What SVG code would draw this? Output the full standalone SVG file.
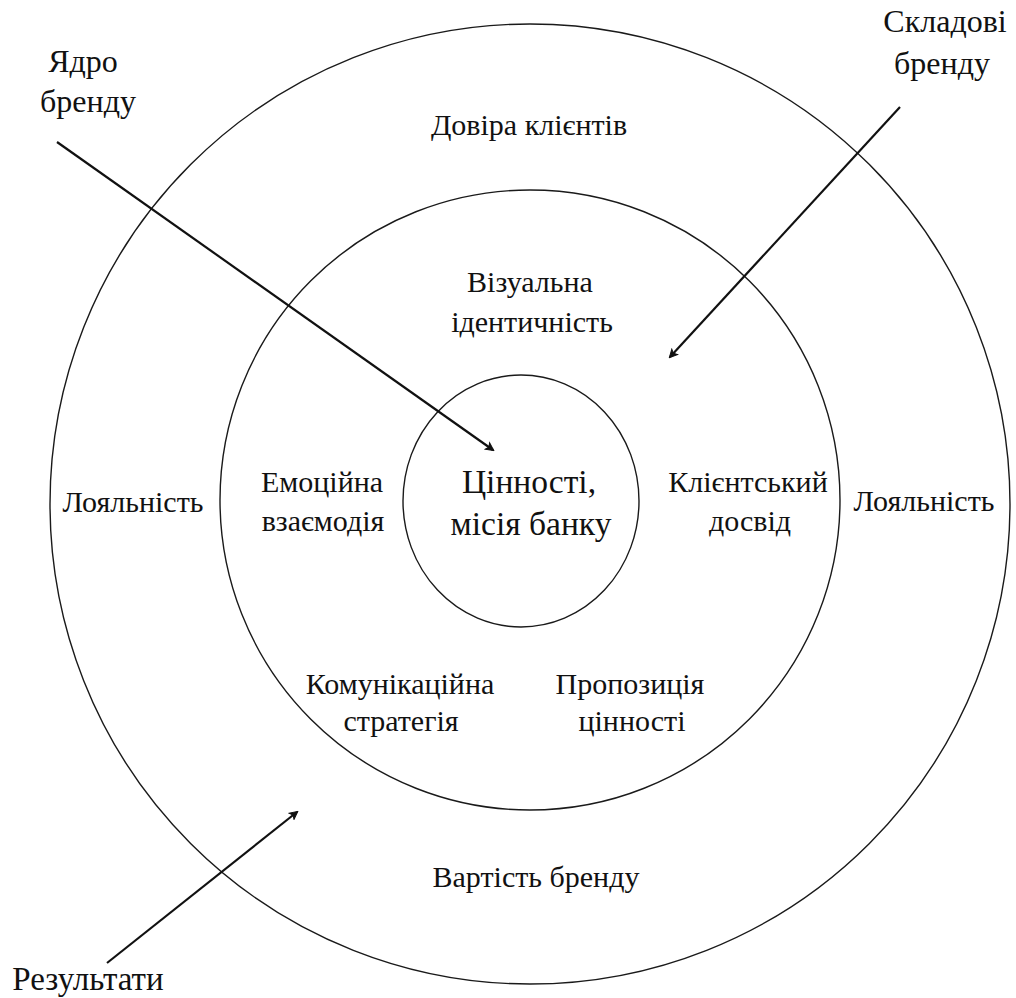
<svg xmlns="http://www.w3.org/2000/svg" width="1016" height="998" viewBox="0 0 1016 998">
<style>
.ring{fill:none;stroke:#1a1a1a;stroke-width:1.4}
.t{font-family:"Liberation Serif","Times New Roman",serif;font-size:30px;fill:#111;text-anchor:middle}
.tl{font-family:"Liberation Serif","Times New Roman",serif;font-size:32px;fill:#111;text-anchor:middle}
.tc{font-family:"Liberation Serif","Times New Roman",serif;font-size:33.5px;fill:#111;text-anchor:middle}
.arr{fill:none;stroke:#111;stroke-width:2.2;marker-end:url(#ah)}
</style>
<defs>
<marker id="ah" markerWidth="10" markerHeight="10" refX="8" refY="5" orient="auto" markerUnits="userSpaceOnUse">
<path d="M1,1 L9,5 L1,9 L3,5 Z" fill="#111" stroke="#111" stroke-width="1"/>
</marker>
</defs>
<rect width="1016" height="998" fill="#fff"/>
<g id="outer">
<circle class="ring" cx="530" cy="504" r="480"/>
<text class="t" x="529" y="135">Довіра клієнтів</text>
<text class="t" x="133" y="512">Лояльність</text>
<text class="t" x="924" y="511">Лояльність</text>
<text class="t" x="536" y="887">Вартість бренду</text>
</g>
<g id="middle">
<circle class="ring" cx="530" cy="500" r="310"/>
<text class="t" x="530" y="292">Візуальна</text>
<text class="t" x="532" y="332">ідентичність</text>
<text class="t" x="322" y="492">Емоційна</text>
<text class="t" x="323" y="531">взаємодія</text>
<text class="t" x="748" y="492">Клієнтський</text>
<text class="t" x="750" y="531">досвід</text>
<text class="t" x="400" y="694">Комунікаційна</text>
<text class="t" x="401" y="731">стратегія</text>
<text class="t" x="630" y="694">Пропозиція</text>
<text class="t" x="632" y="731">цінності</text>
</g>
<g id="core">
<ellipse class="ring" cx="521" cy="501" rx="118" ry="126"/>
<text class="tc" x="529" y="493">Цінності,</text>
<text class="tc" x="531" y="535">місія банку</text>
</g>
<g id="label-core">
<text class="tl" x="83" y="72">Ядро</text>
<text class="tl" x="88" y="112">бренду</text>
</g>
<g id="label-components">
<text class="tl" x="945" y="32">Складові</text>
<text class="tl" x="942" y="74">бренду</text>
</g>
<g id="label-results">
<text class="tl" x="88" y="990" style="font-size:33px">Результати</text>
</g>
<g id="connectors">
<line class="arr" x1="57" y1="142" x2="493" y2="450"/>
<line class="arr" x1="900" y1="107" x2="670" y2="357"/>
<line class="arr" x1="107" y1="963" x2="297" y2="812"/>
</g>
</svg>
